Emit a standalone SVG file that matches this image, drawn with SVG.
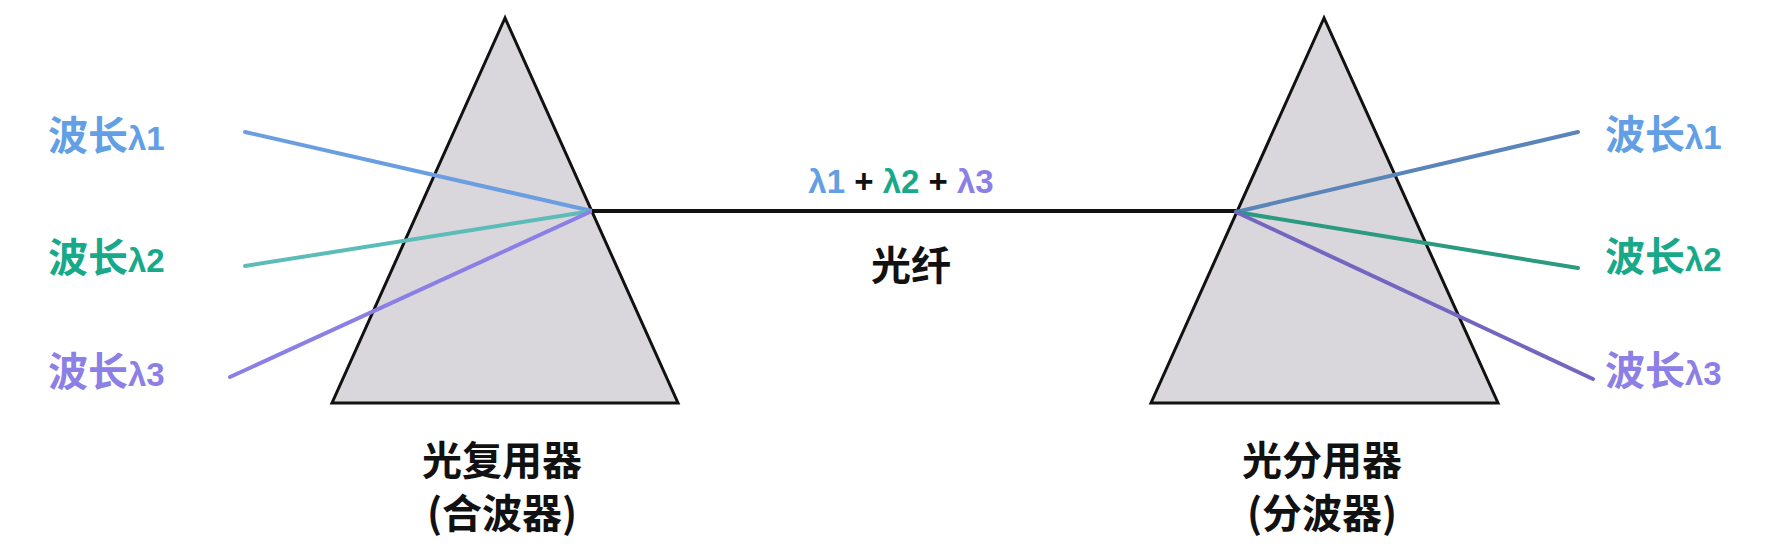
<svg xmlns="http://www.w3.org/2000/svg" width="1772" height="554" viewBox="0 0 1772 554">
<style>
.prism{fill:#d9d7db;stroke:#111;stroke-width:3;stroke-linejoin:miter}
.ray{stroke-width:4;stroke-linecap:round;fill:none}
.cjk{font-family:"Noto Sans CJK SC","Noto Sans",sans-serif;font-weight:700;font-size:40px}
.lat{font-family:"Liberation Sans","DejaVu Sans",sans-serif;font-weight:700;font-size:33px}
.c1{fill:#629fe4}.c2{fill:#18a98a}.c3{fill:#8c80e6}
.dark{fill:#111}
</style>
<rect width="1772" height="554" fill="#ffffff"/>
<g id="mux">
<polygon class="prism" points="505,18 332,403 678,403"/>
<text class="cjk dark" x="502" y="475" text-anchor="middle">光复用器</text>
<text class="cjk dark" x="502" y="528" text-anchor="middle">(合波器)</text>
</g>
<g id="demux">
<polygon class="prism" points="1324,18 1151,403 1498,403"/>
<text class="cjk dark" x="1322" y="475" text-anchor="middle">光分用器</text>
<text class="cjk dark" x="1322" y="528" text-anchor="middle">(分波器)</text>
</g>
<g id="in-labels">
<text class="cjk c1" x="48" y="150">波长<tspan class="lat">λ1</tspan></text>
<text class="cjk c2" x="48" y="272">波长<tspan class="lat">λ2</tspan></text>
<text class="cjk c3" x="48" y="386">波长<tspan class="lat">λ3</tspan></text>
</g>
<g id="out-labels">
<text class="cjk c1" x="1605" y="149">波长<tspan class="lat">λ1</tspan></text>
<text class="cjk c2" x="1605" y="271">波长<tspan class="lat">λ2</tspan></text>
<text class="cjk c3" x="1605" y="385">波长<tspan class="lat">λ3</tspan></text>
</g>
<g id="connectors">
<line class="ray" x1="245" y1="132" x2="592" y2="211" stroke="#6b9ee0"/>
<line class="ray" x1="245" y1="266" x2="592" y2="211" stroke="#5cbcb8"/>
<line class="ray" x1="230" y1="377" x2="592" y2="211" stroke="#8b7fe6"/>
<line x1="592" y1="211" x2="1236" y2="211" stroke="#111" stroke-width="4"/>
<line class="ray" x1="1236" y1="212" x2="1578" y2="132" stroke="#5a85b8"/>
<line class="ray" x1="1236" y1="212" x2="1578" y2="268" stroke="#2a9a80"/>
<line class="ray" x1="1236" y1="212" x2="1593" y2="379" stroke="#7266c0"/>
</g>
<g id="fiber-labels">
<text class="lat" x="901" y="193" text-anchor="middle" xml:space="preserve"><tspan class="c1">λ1</tspan><tspan class="dark"> + </tspan><tspan class="c2">λ2</tspan><tspan class="dark"> + </tspan><tspan class="c3">λ3</tspan></text>
<text class="cjk dark" x="911" y="280" text-anchor="middle">光纤</text>
</g>
</svg>
